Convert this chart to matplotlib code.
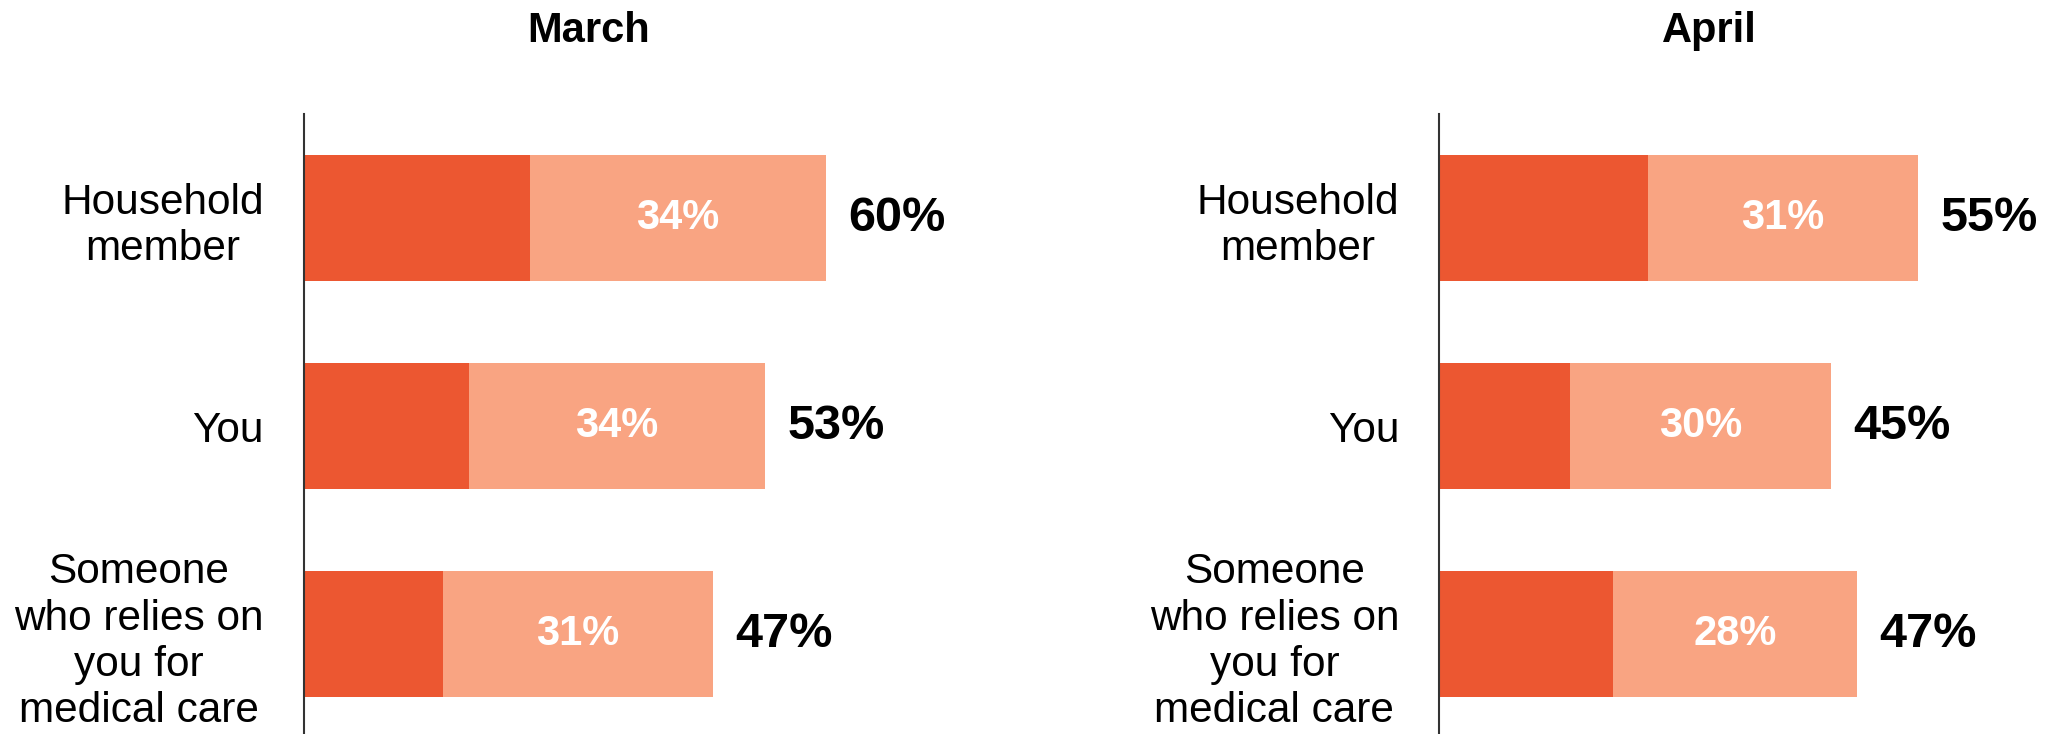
"""
Stacked horizontal bars: March vs April.
"""

import matplotlib.pyplot as plt

plt.rcParams['font.family'] = ['Liberation Sans', 'DejaVu Sans']

# Data
categories = ['Household\nmember', 'You', 'Someone\nwho relies on\nyou for\nmedical care']
months = ['March', 'April']
dark_vals = {'March': [26, 19, 16], 'April': [24, 15, 20]}
light_vals = {'March': [34, 34, 31], 'April': [31, 30, 28]}
totals = {'March': [60, 53, 47], 'April': [55, 45, 47]}

DARK = '#EC5731'
LIGHT = '#F9A482'

fig = plt.figure(figsize=(20.47, 7.34), dpi=100)

axes_left = {'March': 0.1485, 'April': 0.7032}
title_x = {'March': 0.2875, 'April': 0.835}

for month in months:
    ax = fig.add_axes([axes_left[month], 0.0, 0.2975, 0.8447])
    y = list(range(len(categories)))
    dark = dark_vals[month]
    light = light_vals[month]

    ax.barh(y, dark, height=0.606, color=DARK)
    ax.barh(y, light, left=dark, height=0.606, color=LIGHT)

    for i in y:
        ax.text(dark[i] + light[i] / 2, i, f'{light[i]}%', ha='center', va='center',
                color='white', fontsize=30, fontweight='bold')
        ax.text(dark[i] + light[i] + 2.6, i, f'{totals[month][i]}%', ha='left', va='center',
                color='black', fontsize=35, fontweight='bold', clip_on=False)

    ax.set_xlim(0, 70)
    ax.set_ylim(2.48, -0.5)
    ax.set_yticks(y)
    ax.set_yticklabels(categories, fontsize=30.5)
    for lbl in ax.get_yticklabels():
        lbl.set_multialignment('center')
    ax.tick_params(axis='y', length=0, pad=29)
    ax.set_xticks([])

    for side in ['top', 'right', 'bottom']:
        ax.spines[side].set_visible(False)
    ax.spines['left'].set_color('#333333')
    ax.spines['left'].set_linewidth(1.5)

    fig.text(title_x[month], 0.958, month, ha='center', va='center',
             fontsize=30, fontweight='bold')

plt.savefig('out.png', dpi=100)
plt.close()
